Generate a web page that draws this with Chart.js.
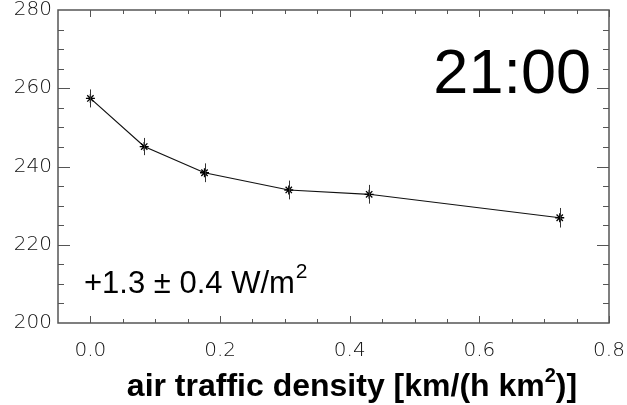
<!DOCTYPE html>
<html>
<head>
<meta charset="utf-8">
<script src="https://cdn.jsdelivr.net/npm/chart.js@4"></script>
<style>
  html, body { margin: 0; padding: 0; background: #fff; }
  #wrap { width: 627px; height: 405px; }
</style>
</head>
<body>
<div id="wrap"><canvas id="trafficChart" width="627" height="405"></canvas></div>
<script>
/* =========================
   DATA
========================= */
const density = [0.0, 0.083, 0.176, 0.306, 0.430, 0.724];
const temperature = [257.4, 245.1, 238.4, 234.0, 232.9, 226.9];
const tempError = [2.3, 2.2, 2.4, 2.4, 2.4, 2.5];
const xTicks = [0.0, 0.2, 0.4, 0.6, 0.8];
const yTicks = [200, 220, 240, 260, 280];
const xRange = [-0.05, 0.8];
const yRange = [200, 280];
const hourLabel = '21:00';
const trendLabel = '+1.3 \u00b1 0.4 W/m';
const xTitle = 'air traffic density [km/(h km';

const tickFont = { family: "'DejaVu Sans'", size: 20, weight: 200 };

/* =========================
   PLUGINS
========================= */

// error bars from the data arrays
const errorBarPlugin = {
  id: 'errorBars',
  afterDatasetsDraw(chart) {
    const { ctx, scales: { x, y } } = chart;
    ctx.save();
    ctx.strokeStyle = '#333';
    ctx.lineWidth = 1;
    density.forEach((d, i) => {
      const px = Math.round(x.getPixelForValue(d)) + 0.5;
      ctx.beginPath();
      ctx.moveTo(px, y.getPixelForValue(temperature[i] - tempError[i]));
      ctx.lineTo(px, y.getPixelForValue(temperature[i] + tempError[i]));
      ctx.stroke();
    });
    ctx.restore();
  }
};

// box frame with inward ticks on all four sides
const framePlugin = {
  id: 'frame',
  afterDraw(chart) {
    const { ctx, chartArea: a, scales: { x, y } } = chart;
    ctx.save();
    ctx.strokeStyle = '#555';
    ctx.lineWidth = 1.5;
    ctx.strokeRect(a.left, a.top, a.right - a.left, a.bottom - a.top);
    ctx.lineWidth = 1;
    ctx.beginPath();
    for (let v = 0; v <= xRange[1] + 1e-9; v += 0.05) {
      const px = Math.round(x.getPixelForValue(v)) + 0.5;
      const major = Math.abs(v / 0.2 - Math.round(v / 0.2)) < 1e-6;
      const len = major ? 7 : 4;
      ctx.moveTo(px, a.bottom); ctx.lineTo(px, a.bottom - len);
      ctx.moveTo(px, a.top); ctx.lineTo(px, a.top + len);
    }
    for (let v = yRange[0] + 5; v < yRange[1]; v += 5) {
      const py = Math.round(y.getPixelForValue(v)) + 0.5;
      const len = v % 20 === 0 ? 12 : 6;
      ctx.moveTo(a.left, py); ctx.lineTo(a.left + len, py);
      ctx.moveTo(a.right, py); ctx.lineTo(a.right - len, py);
    }
    ctx.stroke();
    ctx.restore();
  }
};

// annotations and axis title
const textPlugin = {
  id: 'texts',
  afterDraw(chart) {
    const { ctx } = chart;
    ctx.save();
    ctx.fillStyle = '#000';
    ctx.textBaseline = 'alphabetic';

    ctx.font = "63px 'Liberation Sans'";
    ctx.textAlign = 'right';
    ctx.fillText(hourLabel, 591, 93);

    ctx.textAlign = 'left';
    ctx.font = "31px 'Liberation Sans'";
    ctx.fillText(trendLabel, 84, 293);
    let w = ctx.measureText(trendLabel).width;
    ctx.font = "21px 'Liberation Sans'";
    ctx.fillText('2', 84 + w + 1, 278);

    ctx.font = "bold 32px 'Liberation Sans'";
    const tw = ctx.measureText(xTitle).width;
    ctx.font = "bold 20px 'Liberation Sans'";
    const sw = ctx.measureText('2').width;
    ctx.font = "bold 32px 'Liberation Sans'";
    const ew = ctx.measureText(')]').width;
    const total = tw + sw + ew;
    let x0 = 352 - total / 2;
    ctx.fillText(xTitle, x0, 396);
    ctx.font = "bold 20px 'Liberation Sans'";
    ctx.fillText('2', x0 + tw, 382);
    ctx.font = "bold 32px 'Liberation Sans'";
    ctx.fillText(')]', x0 + tw + sw, 396);
    ctx.restore();
  }
};

/* =========================
   CHART
========================= */

function createChart() {
  const ctx = document.getElementById('trafficChart').getContext('2d');

  new Chart(ctx, {
    type: 'scatter',
    data: {
      datasets: [
        {
          data: density.map((d, i) => ({ x: d, y: temperature[i] })),
          showLine: true,
          borderColor: '#111',
          borderWidth: 1.2,
          pointStyle: 'star',
          pointRadius: 4.5,
          pointBorderColor: '#000',
          pointBorderWidth: 1.3,
          pointBackgroundColor: '#000',
          tension: 0
        }
      ]
    },
    options: {
      responsive: false,
      animation: false,
      layout: {
        padding: { left: 0, top: 10, right: 18, bottom: 0 }
      },
      scales: {
        x: {
          type: 'linear',
          min: xRange[0],
          max: xRange[1],
          grid: { display: false, drawTicks: false },
          border: { display: false },
          afterBuildTicks: scale => {
            scale.ticks = xTicks.map(v => ({ value: v }));
          },
          afterFit: scale => {
            scale.height = 82;
            scale.paddingLeft = 0;
            scale.paddingRight = 0;
          },
          ticks: {
            font: tickFont,
            color: '#111',
            padding: 16,
            maxRotation: 0,
            autoSkip: false,
            callback: v => Number(v).toFixed(1)
          }
        },
        y: {
          min: yRange[0],
          max: yRange[1],
          grid: { display: false, drawTicks: false },
          border: { display: false },
          afterBuildTicks: scale => {
            scale.ticks = yTicks.map(v => ({ value: v }));
          },
          afterFit: scale => {
            scale.width = 58;
            scale.paddingTop = 0;
            scale.paddingBottom = 0;
          },
          ticks: {
            font: tickFont,
            color: '#111',
            padding: 6
          }
        }
      },
      plugins: {
        legend: { display: false },
        tooltip: { enabled: false }
      }
    },
    plugins: [errorBarPlugin, framePlugin, textPlugin]
  });
}

createChart();
</script>
</body>
</html>
